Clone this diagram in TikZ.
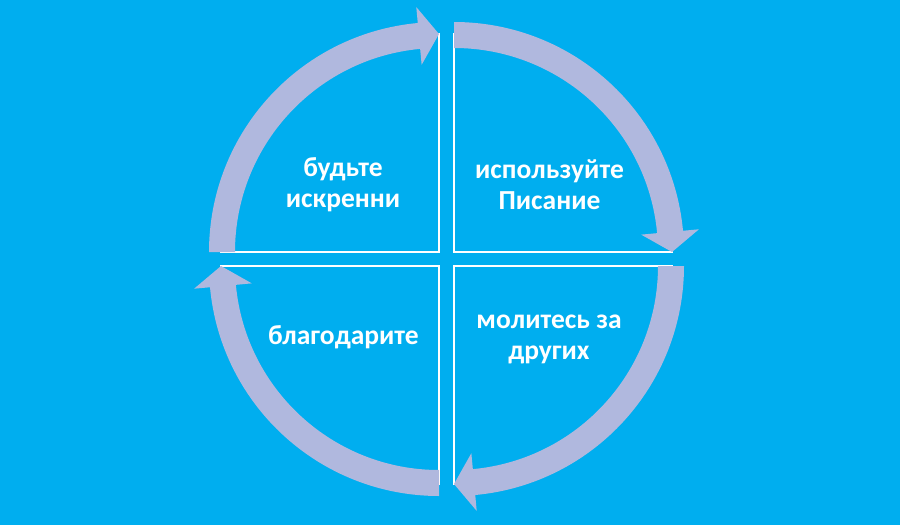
\documentclass[tikz,border=0pt]{standalone}
\usepackage{fontspec}
\setmainfont{Carlito}
\usetikzlibrary{calc}
\definecolor{bgc}{HTML}{00AEEF}
\definecolor{arrc}{HTML}{B0B8DE}
\tikzset{
  quad/.style={fill=bgc, draw=white, line width=1.8pt},
  lbl/.style={text=white, font=\fontsize{27.5}{31}\selectfont\bfseries, align=center},
  arrowfill/.style={fill=arrc}
}
% #1 center, #2 start angle, #3 end angle (tip), #4 head base angle
\newcommand{\myCircArrow}[4]{%
  \fill[arrowfill] ($#1+(#2:230pt)$) arc[start angle=#2, end angle=#4, radius=230pt]
    -- ($#1+(#4:246pt)$) -- ($#1+(#3:218pt)$) -- ($#1+(#4:188pt)$)
    -- ($#1+(#4:204pt)$) arc[start angle=#4, end angle=#2, radius=204pt] -- cycle;}
\begin{document}
\begin{tikzpicture}[x=1pt,y=1pt]
\fill[bgc] (0,0) rectangle (900,-525);
\useasboundingbox (0,0) rectangle (900,-525);
\coordinate (tl) at (439,-252);
\coordinate (tr) at (454,-252);
\coordinate (bl) at (439,-266);
\coordinate (br) at (454,-266);
% quadrants
\filldraw[quad] (tl) -- ++(180:218) arc[start angle=180, end angle=90, radius=218] -- cycle;
\filldraw[quad] (tr) -- ++(90:218) arc[start angle=90, end angle=0, radius=218] -- cycle;
\filldraw[quad] (br) -- ++(0:218) arc[start angle=0, end angle=-90, radius=218] -- cycle;
\filldraw[quad] (bl) -- ++(-90:218) arc[start angle=-90, end angle=-180, radius=218] -- cycle;
% arrows
\myCircArrow{(tl)}{180}{90}{95.3}
\myCircArrow{(tr)}{90}{0}{5.3}
\myCircArrow{(br)}{0}{-90}{-84.7}
\myCircArrow{(bl)}{-90}{-180}{-174.7}
% labels
\node[lbl] (t1) at (343,-185) {будьте\\искренни};
\node[lbl] (t2) at (549.5,-185) {используйте\\Писание};
\node[lbl] (t3) at (343.5,-337) {благодарите};
\node[lbl] (t4) at (549,-339) {молитесь за\\других};
\end{tikzpicture}
\end{document}
